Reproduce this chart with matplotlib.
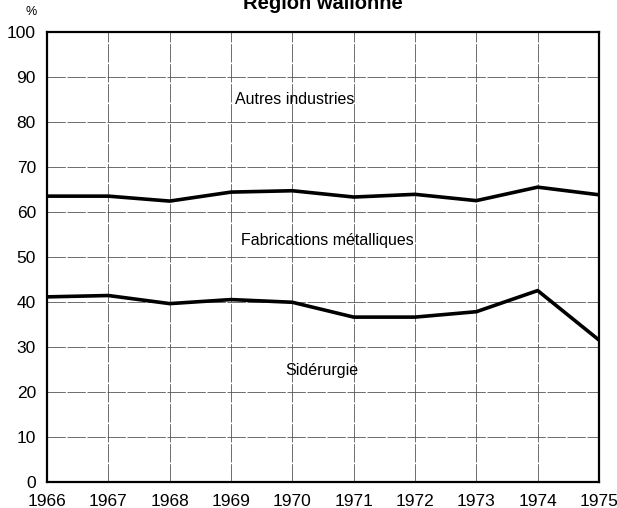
import matplotlib
matplotlib.use("Agg")
import matplotlib.pyplot as plt

years = [1966, 1967, 1968, 1969, 1970, 1971, 1972, 1973, 1974, 1975]
siderurgie = [41.1, 41.4, 39.6, 40.5, 39.9, 36.6, 36.6, 37.8, 42.5, 31.5]
siderurgie_fabrications = [63.5, 63.5, 62.4, 64.4, 64.7, 63.3, 63.9, 62.5, 65.5, 63.8]
yticks = [0, 10, 20, 30, 40, 50, 60, 70, 80, 90, 100]

plt.rcParams['font.family'] = ['Liberation Sans', 'DejaVu Sans']

fig = plt.figure(figsize=(6.17, 5.08), dpi=100)
ax = fig.add_axes([47/617, 1-481.7/508, 552/617, 449.7/508])

ax.plot(years, siderurgie, color='black', lw=2.6, solid_joinstyle='round')
ax.plot(years, siderurgie_fabrications, color='black', lw=2.6, solid_joinstyle='round')

ax.set_xlim(1966, 1975)
ax.set_ylim(0, 100)
ax.set_xticks(years)
ax.set_yticks(yticks)
ax.grid(True, color='#555555', lw=0.6, ls=(0, (22, 2)))
ax.tick_params(axis='x', length=0, labelsize=12.5, pad=9)
ax.tick_params(axis='y', length=0, labelsize=12.5, pad=8)
for s in ax.spines.values():
    s.set_linewidth(1.6)

ax.text(1970.04, 84.9, 'Autres industries', ha='center', va='center', fontsize=11.5)
ax.text(1970.57, 53.7, 'Fabrications métalliques', ha='center', va='center', fontsize=11.5)
ax.text(1970.48, 24.8, 'Sidérurgie', ha='center', va='center', fontsize=11.5)

fig.text(31/617, 1-12/508, '%', ha='center', va='center', fontsize=9)
fig.text(323/617, 1-9/508, 'Région wallonne', ha='center', va='baseline', fontsize=14.5, fontweight='bold')

fig.savefig('out.png', dpi=100)
